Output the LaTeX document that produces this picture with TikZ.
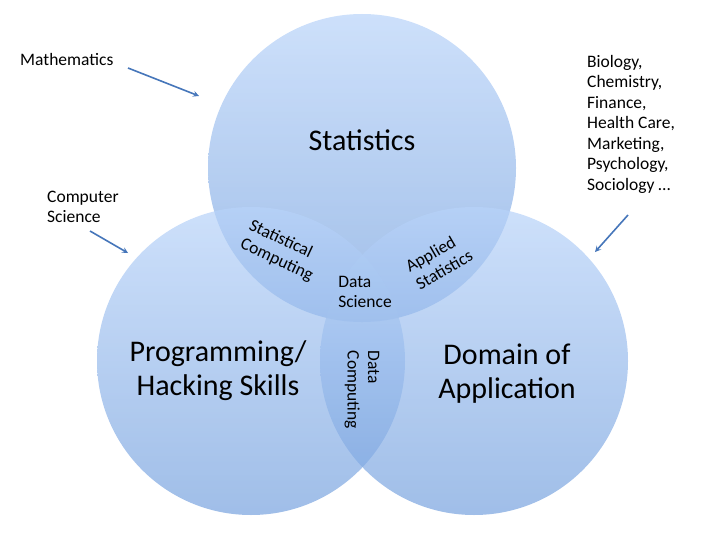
\documentclass[tikz,border=0pt]{standalone}
\usepackage{fontspec}
\setmainfont{Carlito}
\usetikzlibrary{arrows,shapes}
\definecolor{settop}{RGB}{184,211,249}
\definecolor{setbottom}{RGB}{119,162,222}
\definecolor{pointerblue}{RGB}{70,118,186}
\tikzstyle{set}=[circle,minimum size=308pt,inner sep=0pt,top color=settop,bottom color=setbottom,fill opacity=0.7]
\tikzstyle{big label}=[font=\fontsize{30}{34}\selectfont,align=center]
\tikzstyle{side label}=[font=\fontsize{17.5}{20.5}\selectfont,align=left,anchor=west,inner sep=0pt]
\tikzstyle{overlap label}=[font=\fontsize{17.5}{20.5}\selectfont,align=left,inner sep=0pt]
\tikzstyle{pointer}=[draw=pointerblue,line width=1.6pt,-stealth]

\begin{document}
\begin{tikzpicture}[x=1pt,y=-1pt]
    \useasboundingbox (0,0) rectangle (720,540);
    % First we draw the three sets
    \foreach \pos/\name in {{(362,168)/stat}, {(251,361)/prog}, {(474,361)/domain}}
        \node[set] (\name) at \pos {};

    % Names of the sets
    \node[big label] (statname) at (362,140) {Statistics};
    \node[big label] (progname) at (218,371) {Programming/\\Hacking Skills};
    \node[big label] (domainname) at (507,374) {Domain of\\Application};

    % Overlaps
    \node[overlap label,rotate=-25] (statcomp) at (281,251) {Statistical\\Computing};
    \node[overlap label,rotate=30] (applstat) at (439,261) {Applied\\Statistics};
    \node[overlap label] (datasci) at (365,292) {Data\\Science};
    \node[overlap label,rotate=-90] (datacomp) at (362,390) {Data\\Computing};

    % Fields feeding the sets
    \node[side label] (math) at (20,59) {Mathematics};
    \node[side label] (cs) at (47,207) {Computer\\Science};
    \node[side label] (fields) at (587,124) {Biology,\\Chemistry,\\Finance,\\Health Care,\\Marketing,\\Psychology,\\Sociology \dots};

    % Arrows into the sets
    \coordinate (math end) at (199,96);
    \coordinate (cs end) at (128,253);
    \coordinate (fields end) at (595,252);
    \path[pointer] (128,68) -- (math end);
    \path[pointer] (90,231) -- (cs end);
    \path[pointer] (628,215) -- (fields end);
\end{tikzpicture}
\end{document}
